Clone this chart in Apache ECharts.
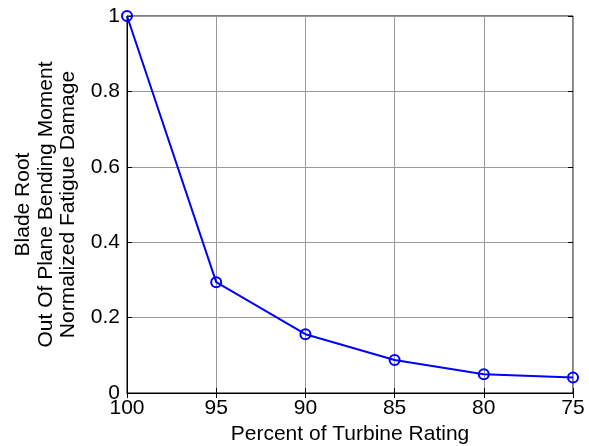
<!DOCTYPE html>
<html>
<head>
<meta charset="utf-8">
<script src="https://cdn.jsdelivr.net/npm/echarts@6/dist/echarts.min.js"></script>
<style>
  html, body { margin: 0; padding: 0; background: #fff; }
  #chart { width: 589px; height: 446px; }
</style>
</head>
<body>
<div id="chart"></div>
<script>
// turbine rating (percent) and normalized fatigue damage
const ratings = [100, 95, 90, 85, 80, 75]
const damage = [1.0, 0.294, 0.156, 0.0875, 0.050, 0.041]
const yLabel = ['Blade Root', 'Out Of Plane Bending Moment', 'Normalized Fatigue Damage']
const xLabel = 'Percent of Turbine Rating'

const font = 'Liberation Sans, Arial, sans-serif'
const chart = echarts.init(document.getElementById('chart'))

const gridLine = { show: true, lineStyle: { color: '#999', width: 1 } }
const tickIn = { show: true, inside: true, length: 5, lineStyle: { color: '#000' } }

chart.setOption({
  animation: false,
  grid: {
    left: 127, right: 16, top: 16, bottom: 53,
    outerBoundsMode: 'none',
    containLabel: false,
    show: true, borderColor: '#000', borderWidth: 1
  },
  xAxis: [
    {
      type: 'value',
      min: 75, max: 100, interval: 5,
      inverse: true,
      axisLine: { show: true, lineStyle: { color: '#000', width: 1 } },
      axisTick: tickIn,
      splitLine: gridLine,
      axisLabel: { color: '#000', fontSize: 21, fontFamily: font, margin: 5 },
      name: xLabel,
      nameLocation: 'middle',
      nameGap: 29,
      nameTextStyle: { color: '#000', fontSize: 21, fontFamily: font }
    },
    {
      type: 'value', position: 'top',
      min: 75, max: 100, interval: 5, inverse: true,
      axisLine: { show: false }, axisTick: tickIn,
      axisLabel: { show: false }, splitLine: { show: false }
    }
  ],
  yAxis: [
    {
      type: 'value',
      min: 0, max: 1, interval: 0.2,
      axisLine: { show: true, lineStyle: { color: '#000', width: 1 } },
      axisTick: tickIn,
      splitLine: gridLine,
      axisLabel: { color: '#000', fontSize: 21, fontFamily: font, margin: 7 },
      name: yLabel.join('\n'),
      nameLocation: 'middle',
      nameRotate: 90,
      nameGap: 43,
      nameTextStyle: { color: '#000', fontSize: 21, fontFamily: font, lineHeight: 22.5 }
    },
    {
      type: 'value', position: 'right',
      min: 0, max: 1, interval: 0.2,
      axisLine: { show: false }, axisTick: tickIn,
      axisLabel: { show: false }, splitLine: { show: false }
    }
  ],
  series: [
    {
      type: 'line',
      data: ratings.map((r, i) => [r, damage[i]]),
      symbol: 'circle',
      symbolSize: 10,
      showAllSymbol: true,
      lineStyle: { color: '#0000ff', width: 2 },
      itemStyle: { color: 'rgba(0,0,0,0)', borderColor: '#0000ff', borderWidth: 2 },
      z: 5
    }
  ]
})
</script>
</body>
</html>
